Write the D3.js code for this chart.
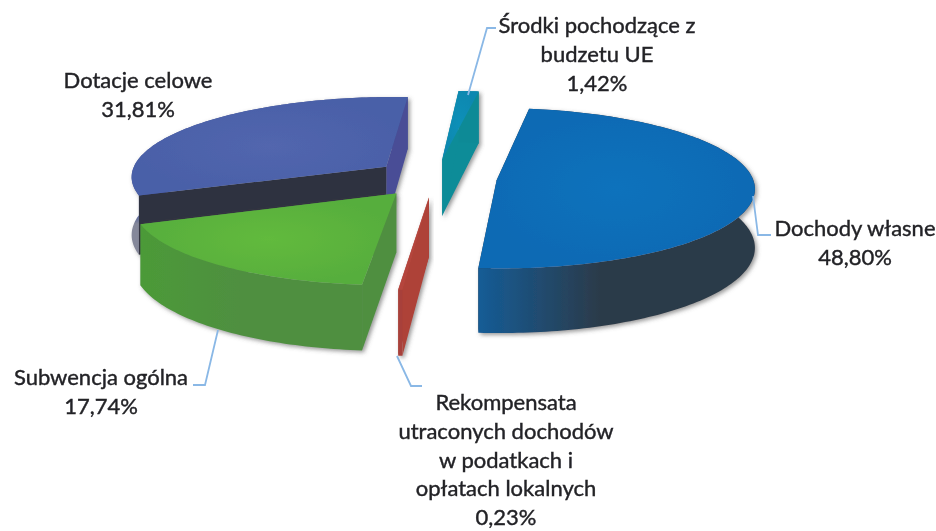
<!DOCTYPE html>
<html>
<head>
<meta charset="utf-8">
<script src="https://cdn.jsdelivr.net/npm/d3@7"></script>
<style>
  html, body { margin: 0; padding: 0; background: #fff; }
  text { font-family: Lato, sans-serif; font-size: 22px; font-weight: 400; fill: #222226; stroke: #222226; stroke-width: 0.4px; text-anchor: middle; }
</style>
</head>
<body>
<div id="chart"></div>
<script>
const categories = ["Dochody własne", "Rekompensata utraconych dochodów w podatkach i opłatach lokalnych", "Subwencja ogólna", "Dotacje celowe", "Środki pochodzące z budzetu UE"]
const shares = [48.80, 0.23, 17.74, 31.81, 1.42]
const shareLabels = ["48,80%", "0,23%", "17,74%", "31,81%", "1,42%"]
const labelLines = [
  ["Dochody własne"],
  ["Rekompensata", "utraconych dochodów", "w podatkach i", "opłatach lokalnych"],
  ["Subwencja ogólna"],
  ["Dotacje celowe"],
  ["Środki pochodzące z", "budzetu UE"]
]
// colours per slice: top face, top highlight, outer wall left/right, radial sides
const topColors = ["#0a6ab4", "#b5453c", "#57ae3c", "#4a60a8", "#0f88b0"]
const topLight = ["#0c72bc", "#b5453c", "#62ba3e", "#5266ae", "#1190b8"]
const wallLeft = ["#155c96", "#a8413a", "#4c9a38", "#3e4f96", "#0d8a96"]
const wallRight = ["#2c3a48", "#a8413a", "#4f8f40", "#3e4f96", "#0d8a96"]
const sideColors = ["#2c3a48", "#ae4238", "#4f8f40", "#484e96", "#0d8c98"]
const innerSide = ["#2c3a48", "#ae4238", "#4f8f40", "#2e3240", "#0d8c98"]

// where the labels sit and how their leaders run
const labelPos = [[855, 236], [506, 410], [101, 385], [138, 88], [597, 33]]
const leaders = [
  [[753, 196], [758, 235], [771, 235]],
  [[397, 356], [411, 386], [422, 386]],
  [[218, 330], [205, 385], [193, 385]],
  [],
  [[468, 95], [487, 28], [496, 28]]
]

const width = 936, height = 531
const cx = 435, cy = 178, viewX = 470
const rx = 256, ry = 79, depth = 58, persp = 0.1, explode = 0.242

const svg = d3.select("#chart").append("svg")
  .attr("width", width)
  .attr("height", height)

const defs = svg.append("defs")
const shadow = defs.append("filter").attr("id", "shadow")
  .attr("x", "-10%").attr("y", "-10%").attr("width", "125%").attr("height", "125%")
shadow.append("feDropShadow")
  .attr("dx", 2).attr("dy", 2).attr("stdDeviation", 2)
  .attr("flood-color", "#555").attr("flood-opacity", 0.6)
const soft = defs.append("filter").attr("id", "soft")
soft.append("feGaussianBlur").attr("stdDeviation", 0.5)
const softText = defs.append("filter").attr("id", "softText")
  .attr("x", "-5%").attr("y", "-5%").attr("width", "110%").attr("height", "110%")
softText.append("feGaussianBlur").attr("stdDeviation", 0.3)

const pie = d3.pie().sort(null)
  .startAngle(8.6 * Math.PI / 180)
  .endAngle((8.6 + 360) * Math.PI / 180)
const slices = pie(shares)

// paint far slices first, blue goes last
const drawOrder = [3, 4, 2, 1, 0]

const line = d3.line()

function project(d, angle, r, drop) {
  const mid = (d.startAngle + d.endAngle) / 2
  const u = r * Math.sin(angle) + explode * Math.sin(mid)
  const v = -r * Math.cos(angle) - explode * Math.cos(mid)
  const f = 1 / (1 - persp * v)
  return [viewX + (cx - viewX + rx * u) * f, cy + (ry * v + drop * depth) * f]
}

function arcPoints(d, drop) {
  const n = Math.max(2, Math.ceil((d.endAngle - d.startAngle) / 0.02))
  return d3.range(n + 1).map(i => project(d, d.startAngle + (d.endAngle - d.startAngle) * i / n, 1, drop))
}

function sideQuad(d, angle) {
  return [project(d, angle, 0, 0), project(d, angle, 1, 0), project(d, angle, 1, 1), project(d, angle, 0, 1)]
}

const chart = svg.append("g").attr("filter", "url(#soft)")

drawOrder.forEach(i => {
  const d = slices[i]
  const top = arcPoints(d, 0)
  const bottom = arcPoints(d, 1)

  const xs = top.map(p => p[0])
  let wallGrad
  if (i === 3) {
    // what shows of the purple wall at far left turns to a grey smudge under the green
    wallGrad = defs.append("linearGradient").attr("id", "wall" + i)
      .attr("gradientUnits", "userSpaceOnUse")
      .attr("x1", 0).attr("x2", 0).attr("y1", 212).attr("y2", 224)
    wallGrad.append("stop").attr("offset", 0).attr("stop-color", wallLeft[i])
    wallGrad.append("stop").attr("offset", 1).attr("stop-color", "#85889a")
  } else {
    wallGrad = defs.append("linearGradient").attr("id", "wall" + i)
      .attr("gradientUnits", "userSpaceOnUse")
      .attr("x1", d3.min(xs)).attr("x2", d3.max(xs)).attr("y1", 0).attr("y2", 0)
    wallGrad.append("stop").attr("offset", 0).attr("stop-color", wallLeft[i])
    wallGrad.append("stop").attr("offset", 0.45).attr("stop-color", wallRight[i])
    wallGrad.append("stop").attr("offset", 1).attr("stop-color", wallRight[i])
  }

  const topGrad = defs.append("radialGradient").attr("id", "top" + i)
  topGrad.append("stop").attr("offset", 0).attr("stop-color", topLight[i])
  topGrad.append("stop").attr("offset", 1).attr("stop-color", topColors[i])

  const g = chart.append("g").attr("filter", "url(#shadow)")

  const wall = () => g.append("path")
    .attr("d", line(top.concat(bottom.slice().reverse())) + "Z")
    .attr("fill", "url(#wall" + i + ")")

  // purple has its wall behind the dark side, the others in front of their sides
  if (i === 3) wall()
  g.append("path")
    .attr("d", line(sideQuad(d, d.endAngle)) + "Z")
    .attr("fill", i === 3 ? sideColors[i] : innerSide[i])
  g.append("path")
    .attr("d", line(sideQuad(d, d.startAngle)) + "Z")
    .attr("fill", innerSide[i])
  if (i !== 3) wall()

  g.append("path")
    .attr("d", line([project(d, d.startAngle, 0, 0)].concat(top)) + "Z")
    .attr("fill", "url(#top" + i + ")")
})

svg.append("g").selectAll("path")
  .data(leaders)
  .enter().append("path")
  .attr("d", d => d.length ? line(d) : null)
  .attr("fill", "none")
  .attr("stroke", "#8ab8e6")
  .attr("stroke-width", 1.8)

const lineHeight = 28.8
const labels = svg.append("g").attr("filter", "url(#softText)").selectAll("g")
  .data(categories)
  .enter().append("g")
  .attr("transform", (d, i) => "translate(" + labelPos[i][0] + "," + labelPos[i][1] + ")")

labels.selectAll("text")
  .data((d, i) => labelLines[i].concat(shareLabels[i]))
  .enter().append("text")
  .attr("y", (d, j) => j * lineHeight)
  .text(d => d)
</script>
</body>
</html>
